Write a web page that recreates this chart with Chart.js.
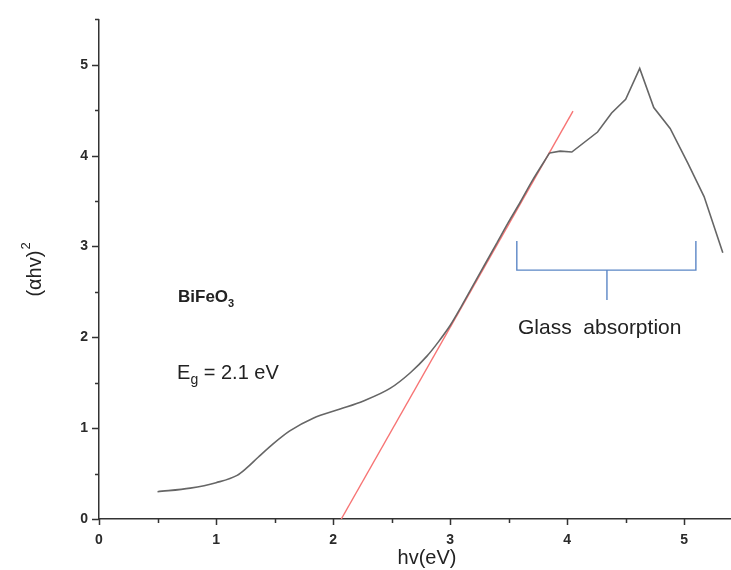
<!DOCTYPE html>
<html>
<head>
<meta charset="utf-8">
<script src="https://cdn.jsdelivr.net/npm/chart.js@4/dist/chart.umd.min.js"></script>
<style>
  html, body { margin: 0; padding: 0; background: #fff; }
  #wrap { width: 731px; height: 570px; position: relative; }
</style>
</head>
<body>
<div id="wrap"><canvas id="tauc"></canvas></div>
<script>
// Données (Tauc plot BiFeO3)
const hvSmooth   = [0.5, 0.78, 1.0, 1.18, 1.26, 1.36, 1.49, 1.63, 1.83, 2.06, 2.26, 2.49, 2.66, 2.8, 2.9, 3.0, 3.1, 3.2, 3.3, 3.4, 3.5, 3.6, 3.7, 3.85];
const ahvSmooth  = [0.30, 0.34, 0.40, 0.48, 0.56, 0.68, 0.83, 0.97, 1.11, 1.21, 1.30, 1.44, 1.61, 1.79, 1.95, 2.13, 2.35, 2.58, 2.81, 3.04, 3.27, 3.49, 3.72, 4.03];
const hvGlass    = [3.85, 3.94, 4.04, 4.26, 4.38, 4.5, 4.62, 4.74, 4.88, 5.03, 5.17, 5.33];
const ahvGlass   = [4.03, 4.05, 4.04, 4.26, 4.47, 4.62, 4.96, 4.53, 4.30, 3.92, 3.55, 2.93];
const fitX       = [2.07, 4.05];
const fitY       = [0, 4.49];
const bracketX   = [3.57, 3.57, 5.10, 5.10, null, 4.34, 4.34];
const bracketY   = [3.06, 2.74, 2.74, 3.06, null, 2.74, 2.41];
const xTicks     = [0, 1, 2, 3, 4, 5];
const yTicks     = [0, 1, 2, 3, 4, 5];

const pts = (xs, ys) => xs.map((x, i) => (x === null ? { x: null, y: null } : { x, y: ys[i] }));

const FONT = '"Liberation Sans", Arial, sans-serif';

// ---- Graduations, titres d'axes et annotations ----
const decor = {
    id: 'decor',
    afterDraw(chart) {
        const { ctx, scales: { x, y } } = chart;
        ctx.save();
        ctx.strokeStyle = '#333';
        ctx.lineWidth = 1.5;
        ctx.beginPath();
        for (let v = 0; v <= 5.0001; v += 0.5) {
            const px = Math.round(x.getPixelForValue(v)) + 0.5;
            const len = Number.isInteger(v) ? 6 : 4;
            ctx.moveTo(px, y.bottom);
            ctx.lineTo(px, y.bottom + len);
        }
        for (let v = 0; v <= 5.5001; v += 0.5) {
            const py = Math.round(y.getPixelForValue(v)) + 0.5;
            const len = Number.isInteger(v) ? 7 : 4;
            ctx.moveTo(x.left, py);
            ctx.lineTo(x.left - len, py);
        }
        ctx.stroke();

        ctx.fillStyle = '#222';
        ctx.textBaseline = 'alphabetic';

        // Titre axe X
        ctx.font = '20px ' + FONT;
        ctx.textAlign = 'center';
        ctx.fillText('hv(eV)', 427, 564);

        // Titre axe Y : (αhv)²
        ctx.save();
        ctx.translate(41, 270);
        ctx.rotate(-Math.PI / 2);
        ctx.font = '20px ' + FONT;
        const wMain = ctx.measureText('(αhv)').width;
        ctx.font = '13px ' + FONT;
        const wSup = ctx.measureText('2').width;
        const x0 = -(wMain + wSup) / 2;
        ctx.textAlign = 'left';
        ctx.font = '20px ' + FONT;
        ctx.fillText('(αhv)', x0, 0);
        ctx.font = '13px ' + FONT;
        ctx.fillText('2', x0 + wMain + 1, -11);
        ctx.restore();

        ctx.textAlign = 'left';

        // BiFeO3
        let px = x.getPixelForValue(0.675), py = y.getPixelForValue(2.39);
        ctx.font = 'bold 17px ' + FONT;
        ctx.fillText('BiFeO', px, py);
        let w = ctx.measureText('BiFeO').width;
        ctx.font = 'bold 11px ' + FONT;
        ctx.fillText('3', px + w, py + 5);

        // Eg = 2.1 eV
        px = x.getPixelForValue(0.667); py = y.getPixelForValue(1.54);
        ctx.font = '20px ' + FONT;
        ctx.fillText('E', px, py);
        w = ctx.measureText('E').width;
        ctx.font = '14px ' + FONT;
        ctx.fillText('g', px + w, py + 5);
        const wg = ctx.measureText('g').width;
        ctx.font = '20px ' + FONT;
        ctx.fillText(' = 2.1 eV', px + w + wg, py);

        // Glass absorption
        px = x.getPixelForValue(3.58); py = y.getPixelForValue(2.04);
        ctx.font = '21px ' + FONT;
        ctx.fillText('Glass  absorption', px, py);
        ctx.restore();
    }
};

new Chart(document.getElementById('tauc'), {
    type: 'line',
    data: {
        datasets: [
            {
                label: 'Courbe',
                data: pts(hvSmooth, ahvSmooth),
                borderColor: '#666',
                borderWidth: 1.6,
                cubicInterpolationMode: 'monotone',
                pointRadius: 0
            },
            {
                label: 'Absorption verre',
                data: pts(hvGlass, ahvGlass),
                borderColor: '#666',
                borderWidth: 1.6,
                tension: 0,
                pointRadius: 0
            },
            {
                label: 'Ajustement',
                data: pts(fitX, fitY),
                borderColor: '#f77474',
                borderWidth: 1.4,
                tension: 0,
                pointRadius: 0
            },
            {
                label: 'Accolade',
                data: pts(bracketX, bracketY),
                borderColor: '#5b86c5',
                borderWidth: 1.4,
                tension: 0,
                spanGaps: false,
                pointRadius: 0
            }
        ]
    },
    options: {
        responsive: true,
        maintainAspectRatio: false,
        animation: false,
        layout: { padding: { top: 15, right: 0, left: 0, bottom: 0 } },
        plugins: {
            legend: { display: false },
            tooltip: { enabled: false }
        },
        scales: {
            x: {
                type: 'linear',
                min: 0,
                max: 5.4,
                afterFit: (s) => { s.height = 51; },
                grid: { display: false, drawTicks: false },
                border: { display: true, color: '#333', width: 1.5 },
                afterBuildTicks: (s) => { s.ticks = xTicks.map(v => ({ value: v })); },
                ticks: {
                    padding: 13,
                    color: '#2a2a2a',
                    font: { family: FONT, size: 14, weight: 'bold' },
                    callback: (v) => v
                }
            },
            y: {
                type: 'linear',
                min: 0,
                max: 5.5,
                afterFit: (s) => { s.width = 99; },
                grid: { display: false, drawTicks: false },
                border: { display: true, color: '#333', width: 1.5 },
                afterBuildTicks: (s) => { s.ticks = yTicks.map(v => ({ value: v })); },
                ticks: {
                    padding: 11,
                    color: '#2a2a2a',
                    font: { family: FONT, size: 14, weight: 'bold' },
                    callback: (v) => v
                }
            }
        }
    },
    plugins: [decor]
});
</script>
</body>
</html>
